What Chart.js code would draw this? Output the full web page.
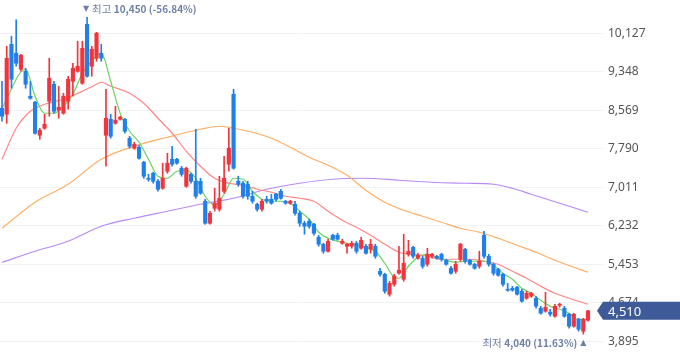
<!DOCTYPE html>
<html>
<head>
<meta charset="utf-8">
<script src="https://cdn.jsdelivr.net/npm/chart.js@4"></script>
<style>
  html, body { margin: 0; padding: 0; background: #fff; }
</style>
</head>
<body>
<canvas id="myChart" width="680" height="358"></canvas>
<script>
// daily candles, oldest first
var opens  = [8609,8488,9904,9722,9399,9358,8852,8731,8063,8205,8751,9095,8569,8508,8751,9156,9358,9115,10309,9459,
              9621,9722,8063,8387,8306,8387,8387,8003,7800,7820,7517,7193,7294,7132,6991,7335,7578,7578,7396,7031,
              7274,7132,7132,6728,6283,6586,6566,6930,7476,8893,7132,7092,7072,6829,6667,6566,6768,6768,6869,6930,
              6728,6688,6667,6485,6283,6323,6262,6000,5858,5716,6040,6040,5878,5817,5817,5878,5777,5817,5756,5817,
              5311,5251,4846,5048,5271,5149,5655,5797,5574,5574,5453,5615,5615,5655,5534,5372,5311,5554,5756,5534,
              5453,5413,6040,5615,5453,5352,5251,4947,4967,4988,4906,4765,4806,4765,4563,4502,4482,4401,4623,4563,
              4441,4198,4340,4098,4320];
var highs  = [9156,9864,10066,10400,9700,9419,9156,8751,8205,8488,9621,9156,9055,8913,9257,9520,9965,9965,10450,9864,
              10147,9904,8994,8488,8650,8448,8407,8043,7922,7861,7537,7274,7315,7173,7497,7699,7840,7598,7436,7416,
              7294,8184,7193,6768,6526,6991,7234,7638,8205,8994,7234,7132,7132,6930,6688,6768,6829,6869,6890,6970,
              6748,6748,6728,6526,6323,6364,6283,6040,5878,5959,6060,6080,5959,5878,5918,5918,6000,5858,5959,5858,
              5372,5271,5109,5251,5817,6060,5939,5817,5676,5615,5777,5676,5635,5676,5554,5413,5514,5878,5777,5554,
              5473,5716,6121,5655,5473,5372,5271,5068,5008,5008,4947,4906,4886,4806,4603,4886,4543,4644,4664,4603,
              4462,4462,4360,4360,4520];
var lows   = [8346,8306,9014,9459,9358,9014,8792,8083,7982,8184,8448,8508,8407,8488,8589,8852,9338,9095,9237,9257,
              9560,9560,7436,8003,8286,8367,8104,7800,7780,7578,7193,7132,7092,6930,6970,7294,7436,7476,7234,7011,
              7092,6788,6869,6262,6262,6526,6526,6890,7335,7375,7031,6788,6768,6688,6526,6526,6688,6667,6728,6768,
              6667,6667,6445,6222,6060,6181,6040,5817,5676,5696,5939,5939,5858,5676,5777,5676,5756,5655,5676,5574,
              5210,4866,4806,5008,5251,5109,5615,5574,5554,5372,5413,5574,5554,5514,5433,5251,5271,5514,5473,5433,
              5352,5372,5574,5413,5230,5210,5008,4906,4906,4826,4684,4745,4785,4563,4441,4482,4401,4380,4583,4380,
              4158,4178,4098,4040,4300];
var closes = [8448,9621,9196,9520,9682,9095,8812,8104,8164,8286,9217,8549,8630,8852,9196,9419,9459,9823,9257,9803,
              10127,9621,8407,8043,8367,8427,8144,7840,7881,7598,7234,7173,7132,6970,7193,7497,7476,7497,7274,7396,
              7132,6829,6890,6283,6485,6688,6788,7193,7800,7396,7072,6829,6829,6728,6566,6728,6728,6688,6768,6788,
              6688,6728,6485,6283,6222,6222,6080,5858,5716,5918,5959,5959,5918,5858,5878,5716,5939,5676,5858,5615,
              5251,4906,5068,5210,5332,5473,5716,5615,5635,5413,5655,5655,5574,5554,5453,5271,5453,5858,5514,5453,
              5372,5514,5615,5453,5271,5230,5048,4927,4927,4846,4704,4866,4866,4603,4462,4583,4441,4603,4644,4401,
              4198,4441,4138,4340,4510];

// moving averages: [candle index, price]
var ma5 = [[0,8609],[5,9399],[7,8852],[9,8508],[11,8508],[13,8650],[15,8893],[17,9318],[19,9560],[21,9722],
           [23,9156],[25,8508],[27,8144],[29,7922],[31,7578],[33,7234],[35,7193],[37,7335],[39,7355],[41,7193],
           [43,6829],[45,6647],[47,6869],[49,7193],[51,7173],[53,6930],[55,6768],[57,6728],[59,6728],[61,6688],
           [63,6526],[65,6364],[67,6101],[69,5979],[71,5918],[73,5878],[75,5838],[77,5797],[79,5716],[81,5473],
           [83,5190],[84,5170],[86,5413],[88,5595],[90,5655],[92,5595],[94,5534],[96,5494],[98,5514],[100,5514],
           [102,5514],[104,5433],[106,5271],[108,5149],[110,4967],[112,4866],[114,4724],[116,4603],[118,4543],
           [120,4462],[122,4340],[124,4340]];
var ma20 = [[0,7578],[3,8205],[6,8549],[9,8690],[13,8792],[17,8954],[20,9095],[21,9136],[23,9055],[27,8913],
            [30,8711],[33,8407],[36,8104],[39,7739],[42,7436],[45,7193],[48,7092],[51,7051],[54,6970],[57,6910],
            [60,6829],[63,6788],[66,6728],[69,6526],[72,6343],[75,6202],[78,6040],[81,5858],[84,5696],[87,5655],
            [90,5615],[93,5554],[96,5554],[99,5554],[102,5514],[105,5453],[108,5311],[111,5170],[114,5008],
            [117,4866],[120,4765],[124,4644]];
var ma60 = [[0,6181],[7,6708],[14,7072],[21,7578],[28,7840],[35,8023],[42,8184],[46,8245],[49,8205],[53,8124],
            [57,8003],[61,7820],[65,7618],[69,7456],[73,7254],[77,6950],[81,6708],[85,6546],[89,6424],[93,6303],
            [97,6181],[101,6101],[105,5979],[109,5838],[113,5696],[117,5534],[121,5392],[124,5291]];
var ma120 = [[0,5493],[7,5716],[14,5918],[21,6222],[28,6384],[35,6526],[42,6667],[49,6788],[56,6970],[63,7092],
             [70,7173],[77,7193],[84,7153],[91,7112],[98,7092],[104,7072],[108,6991],[112,6869],[116,6748],
             [120,6627],[124,6505]];

var yTicks = [3895, 4674, 5453, 6232, 7011, 7790, 8569, 9348, 10127];

var UP = '#f2353d', DOWN = '#1f80ea';
var candleColors = closes.map(function (c, i) { return c >= opens[i] ? UP : DOWN; });
var wickData = lows.map(function (l, i) { return { x: i, y: [l, highs[i]] }; });
var bodyData = opens.map(function (o, i) { return { x: i, y: [o, closes[i]] }; });
function pts(a) { return a.map(function (p) { return { x: p[0], y: p[1] }; }); }
function fmt(v) { return Math.round(v).toLocaleString('en-US'); }

var hiVal = Math.max.apply(null, highs), hiIdx = highs.indexOf(hiVal);
var loVal = Math.min.apply(null, lows), loIdx = lows.indexOf(loVal);
var last = closes[closes.length - 1];

var marks = {
  id: 'marks',
  afterDraw: function (chart) {
    var ctx = chart.ctx, xs = chart.scales.x, ys = chart.scales.y, area = chart.chartArea;
    var col = '#6f7fa5';
    ctx.save();
    ctx.fillStyle = col;
    ctx.textBaseline = 'middle';

    // highest
    var hx = xs.getPixelForValue(hiIdx);
    var hiPct = ((last - hiVal) / hiVal * 100).toFixed(2);
    ctx.font = '8px "DejaVu Sans"';
    ctx.textAlign = 'center';
    ctx.fillText('\u25BC', hx - 1, 9);
    ctx.textAlign = 'left';
    ctx.font = '10.5px "Noto Sans CJK KR"';
    ctx.fillText('최고', hx + 5, 9);
    var w = ctx.measureText('최고 ').width;
    ctx.font = 'bold 10px "Noto Sans CJK KR"';
    ctx.fillText(fmt(hiVal) + ' (' + hiPct + '%)', hx + 5 + w, 9);

    // lowest
    var lx = xs.getPixelForValue(loIdx);
    var loPct = ((last - loVal) / loVal * 100).toFixed(2);
    ctx.font = '8px "DejaVu Sans"';
    ctx.textAlign = 'center';
    ctx.fillText('\u25B2', lx, 343);
    ctx.textAlign = 'right';
    ctx.font = 'bold 10px "Noto Sans CJK KR"';
    var t2 = fmt(loVal) + ' (' + loPct + '%)';
    ctx.fillText(t2, lx - 6, 343);
    var w2 = ctx.measureText(t2).width;
    ctx.font = '10.5px "Noto Sans CJK KR"';
    ctx.fillText('최저 ', lx - 6 - w2, 343);

    // last price tag
    var py = ys.getPixelForValue(last);
    var L = area.right - 6;
    ctx.fillStyle = '#3e5a98';
    ctx.beginPath();
    ctx.moveTo(L, py);
    ctx.lineTo(L + 6, py - 9);
    ctx.lineTo(680, py - 9);
    ctx.lineTo(680, py + 9);
    ctx.lineTo(L + 6, py + 9);
    ctx.closePath();
    ctx.fill();
    ctx.fillStyle = '#fff';
    ctx.textAlign = 'left';
    ctx.font = '13px "Noto Sans"';
    ctx.fillText(fmt(last), L + 11, py + 1);
    ctx.restore();
  }
};

function maLine(data, color, ord) {
  return {
    type: 'line', data: pts(data), borderColor: color, borderWidth: 1.2,
    pointRadius: 0, cubicInterpolationMode: 'monotone', order: ord
  };
}

new Chart(document.getElementById('myChart'), {
  type: 'bar',
  data: {
    datasets: [
      { data: wickData, backgroundColor: candleColors, barThickness: 1, grouped: false, order: 1 },
      { data: bodyData, backgroundColor: candleColors, barThickness: 3.5, minBarLength: 1, grouped: false, order: 0 },
      maLine(ma120, '#b88af7', 5),
      maLine(ma60, '#ffae63', 4),
      maLine(ma20, '#ff8585', 3),
      maLine(ma5, '#6ad35f', 2)
    ]
  },
  options: {
    responsive: false,
    animation: false,
    layout: { padding: 0 },
    plugins: { legend: { display: false }, tooltip: { enabled: false } },
    scales: {
      x: { type: 'linear', display: false, offset: false, min: -0.4232, max: 127.17 },
      y: {
        position: 'right',
        min: 3556, max: 10800,
        afterBuildTicks: function (s) { s.ticks = yTicks.map(function (v) { return { value: v }; }); },
        afterFit: function (s) { s.width = 77; s.paddingTop = 0; s.paddingBottom = 0; },
        grid: { color: '#f1f2f6', drawTicks: false },
        border: { display: false },
        ticks: {
          padding: 5, color: '#555',
          font: { size: 12, family: '"Noto Sans", sans-serif' },
          callback: function (v) { return fmt(v); }
        }
      }
    }
  },
  plugins: [marks]
});
</script>
</body>
</html>
